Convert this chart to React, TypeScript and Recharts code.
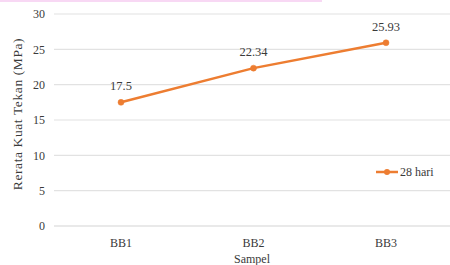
import { LineChart, Line, XAxis, YAxis, CartesianGrid, LabelList } from 'recharts';

// Rerata kuat tekan beton umur 28 hari per sampel
const sampel = ['BB1', 'BB2', 'BB3'];
const hari28 = [17.5, 22.34, 25.93];
const yTicks = [0, 5, 10, 15, 20, 25, 30];

const data = sampel.map((s, i) => ({ sampel: s, nilai: hari28[i] }));

const ORANGE = '#ED7D31';
const FONT = 'Liberation Serif, DejaVu Serif, serif';
const TEKS = '#3a3a3a';

// legenda dibuat manual supaya tidak memakan ruang plot
function LegendaGaris() {
  return (
    <div
      style={{
        position: 'absolute', left: 376, top: 165, display: 'flex', alignItems: 'center',
        fontFamily: FONT, fontSize: 12, color: TEKS, lineHeight: '14px',
      }}
    >
      <svg width={22} height={8} style={{ marginRight: 2 }}>
        <line x1={0} y1={4} x2={22} y2={4} stroke={ORANGE} strokeWidth={2.5} />
        <circle cx={11} cy={4} r={3} fill={ORANGE} />
      </svg>
      <span>28 hari</span>
    </div>
  );
}

export default function App() {
  return (
    <div style={{ position: 'fixed', left: 0, top: 0, width: 450, height: 265, background: '#fff', overflow: 'hidden' }}>
      <div style={{ position: 'absolute', left: 0, top: 0, width: 322, height: 2, background: '#f8d8f4' }} />
      <LineChart width={450} height={265} data={data} margin={{ top: 14, right: 0, left: 0, bottom: 0 }}>
        <CartesianGrid vertical={false} stroke="#e2e2e2" strokeWidth={1.2} />
        <XAxis
          dataKey="sampel"
          height={39}
          padding={{ left: 67, right: 64 }}
          axisLine={{ stroke: '#e2e2e2', strokeWidth: 1.2 }}
          tickLine={false}
          tickSize={0}
          tickMargin={12}
          tick={{ fill: TEKS, fontSize: 12, fontFamily: FONT }}
          label={{ value: 'Sampel', position: 'insideBottom', offset: 2, fill: TEKS, fontSize: 12, fontFamily: FONT }}
        />
        <YAxis
          width={54}
          domain={[0, 30]}
          ticks={yTicks}
          axisLine={false}
          tickLine={false}
          tickSize={0}
          tickMargin={9}
          tick={{ fill: TEKS, fontSize: 12, fontFamily: FONT }}
          label={{
            value: 'Rerata Kuat Tekan (MPa)',
            angle: -90,
            position: 'center',
            dx: -10,
            dy: -6,
            fill: TEKS,
            fontSize: 13.5,
            fontFamily: FONT,
            style: { letterSpacing: 0.6 },
          }}
        />
        <Line
          type="linear"
          dataKey="nilai"
          name="28 hari"
          stroke={ORANGE}
          strokeWidth={2.5}
          dot={{ r: 3, fill: ORANGE, stroke: ORANGE, strokeWidth: 0.5 }}
          isAnimationActive={false}
        >
          <LabelList dataKey="nilai" position="top" offset={12} fill={TEKS} fontSize={12.5} fontFamily={FONT} />
        </Line>
      </LineChart>
      <LegendaGaris />
    </div>
  );
}
